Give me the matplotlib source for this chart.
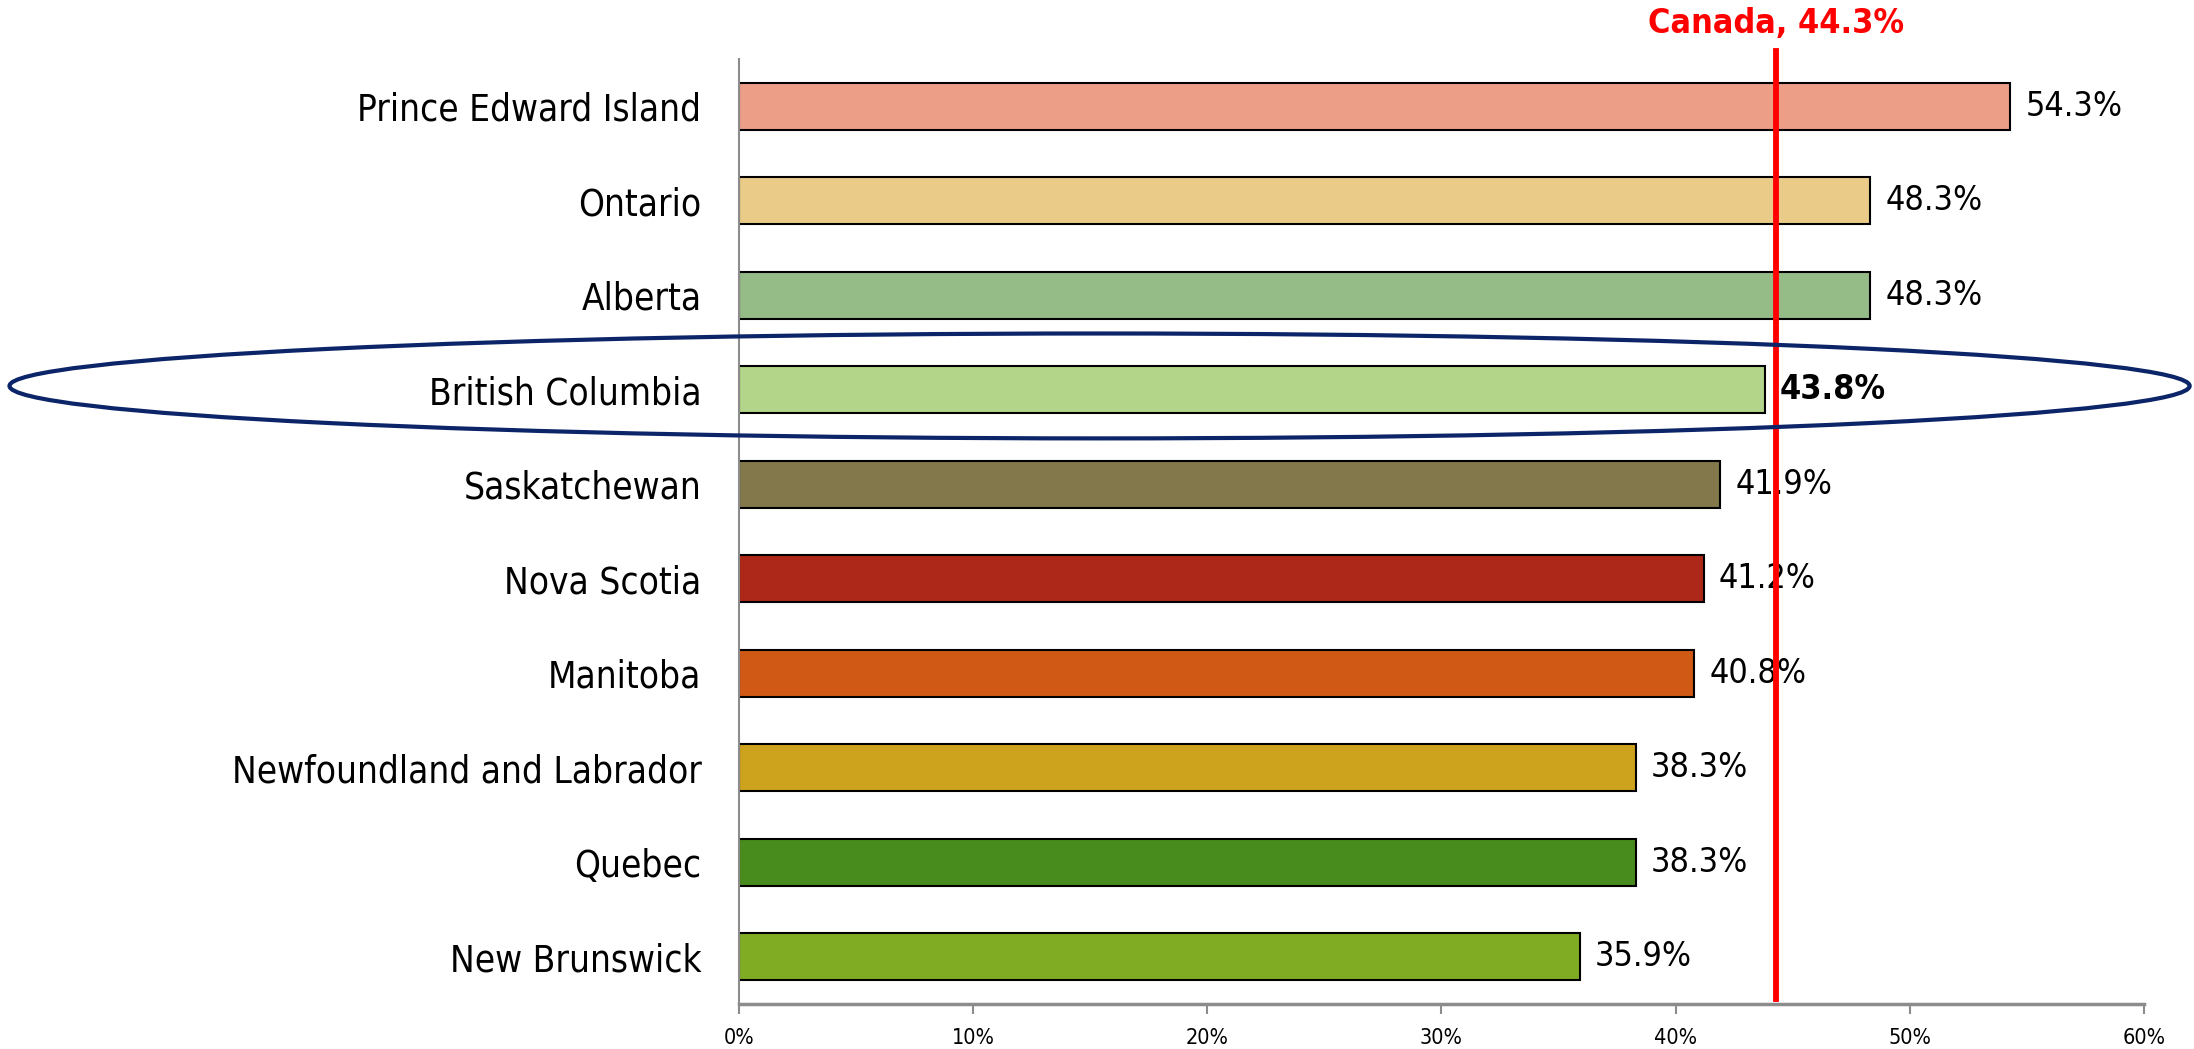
import matplotlib.pyplot as plt
from matplotlib.patches import Ellipse

provinces = [
    "Prince Edward Island",
    "Ontario",
    "Alberta",
    "British Columbia",
    "Saskatchewan",
    "Nova Scotia",
    "Manitoba",
    "Newfoundland and Labrador",
    "Quebec",
    "New Brunswick",
]
values = [54.3, 48.3, 48.3, 43.8, 41.9, 41.2, 40.8, 38.3, 38.3, 35.9]
bar_colors = [
    "#EC9E87", "#EBCB88", "#95BC87", "#B3D58A", "#83784B",
    "#AD2819", "#D05915", "#CDA31D", "#498C1E", "#80AC24",
]
canada_value = 44.3
canada_label = "Canada, 44.3%"
highlight = "British Columbia"
x_ticks = [0, 10, 20, 30, 40, 50, 60]

FONT = dict(family="DejaVu Sans", stretch="condensed")

fig = plt.figure(figsize=(21.94, 10.49), dpi=100)
ax = fig.add_axes([0.3368, 0.0429, 0.9772 - 0.3368, 0.9438 - 0.0429])

# top row first
ypos = list(range(len(provinces)))[::-1]
ax.barh(ypos, values, height=0.5, color=bar_colors, edgecolor="black", linewidth=1.5, zorder=2)

for y, v, name in zip(ypos, values, provinces):
    bold = name == highlight
    ax.annotate(
        f"{v:.1f}%",
        xy=(v, y),
        xytext=(11, 0),
        textcoords="offset points",
        va="center",
        ha="left",
        fontsize=24.5,
        fontweight="bold" if bold else "normal",
        **FONT,
    )

ax.set_xlim(0, 60)
ax.set_ylim(-0.5, len(provinces) - 0.5)
ax.set_yticks(ypos)
ax.set_yticklabels(provinces, fontsize=26.5, **FONT)
ax.set_xticks(x_ticks)
ax.set_xticklabels([f"{t}%" for t in x_ticks], fontsize=15.5, **FONT)
ax.tick_params(axis="y", length=0, pad=27)
ax.tick_params(axis="x", length=7, width=1.5, color="#8C8C8C", pad=10)

for side in ["top", "right"]:
    ax.spines[side].set_visible(False)
ax.spines["left"].set_color("#8C8C8C")
ax.spines["left"].set_linewidth(1.5)
ax.spines["bottom"].set_color("#8C8C8C")
ax.spines["bottom"].set_linewidth(2.5)

# Canada average line
ax.axvline(canada_value, ymin=0.005, ymax=1.008, color="#FF0000", linewidth=4.2, zorder=4, clip_on=False)
ax.text(
    canada_value, 1.038, canada_label,
    transform=ax.get_xaxis_transform(),
    ha="center", va="center", color="#FF0000",
    fontsize=24.5, fontweight="bold", **FONT,
)

# ellipse around highlighted province
hy = ypos[provinces.index(highlight)]
ax.add_patch(
    Ellipse(
        (15.4, hy + 0.04), width=93.1, height=1.11,
        fill=False, edgecolor="#0C2568", linewidth=3, clip_on=False, zorder=5,
    )
)

fig.savefig("out.png", dpi=100)
